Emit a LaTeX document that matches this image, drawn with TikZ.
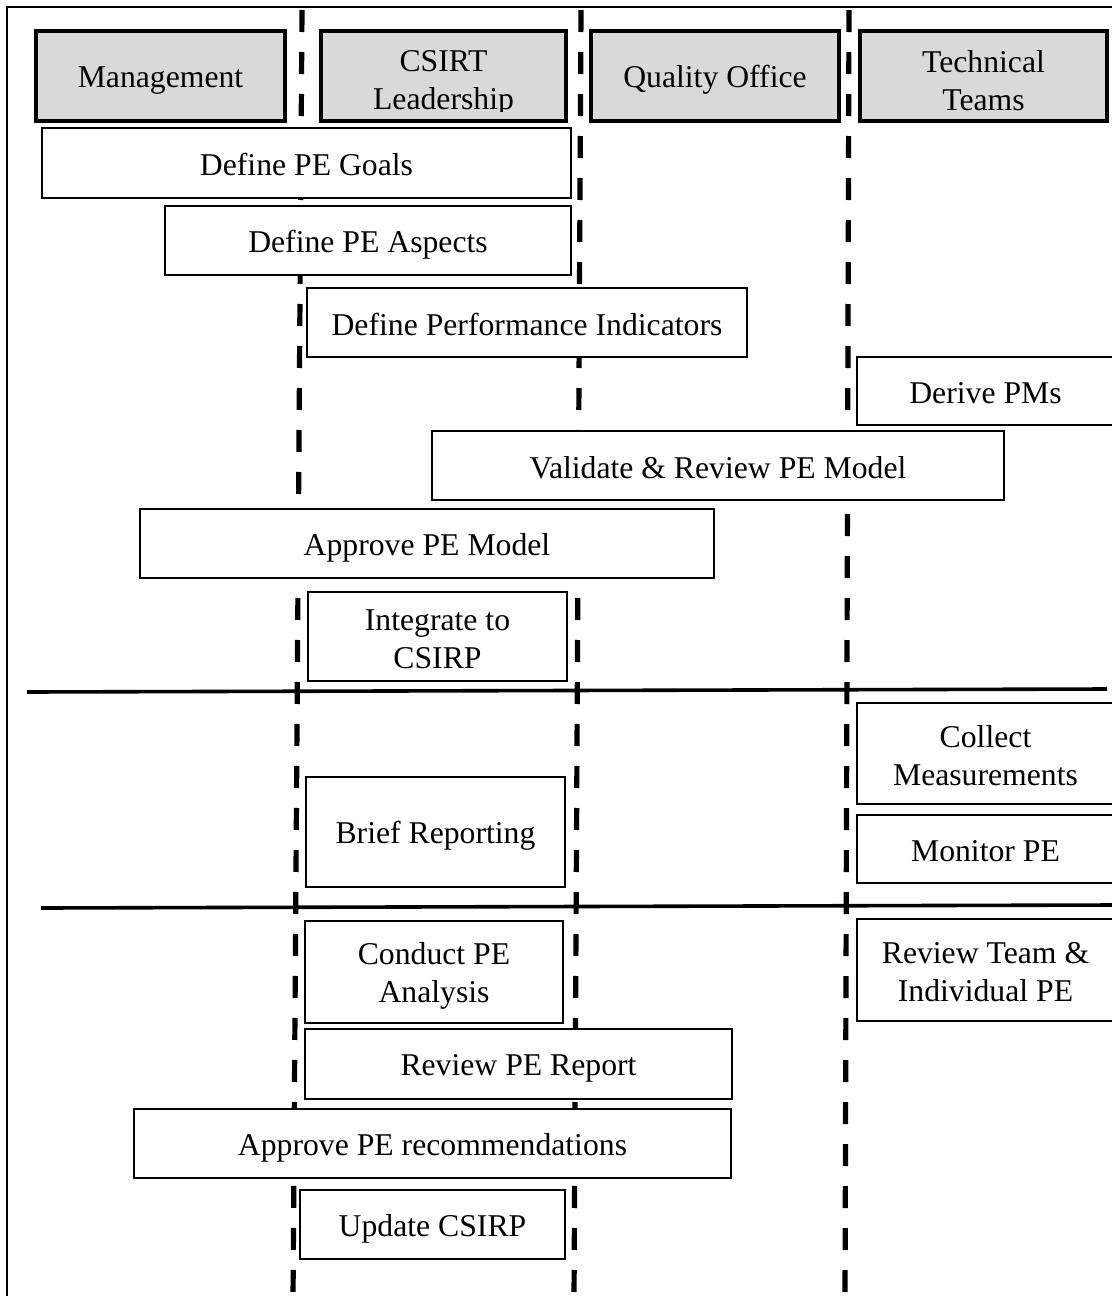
\documentclass[tikz,border=0pt]{standalone}
\usepackage{fontspec}
\setmainfont{Liberation Serif}
\definecolor{headgray}{HTML}{D9D9D9}
\newcommand\wstrut{\rule[-0.15em]{0pt}{1.107em}}
\begin{document}
\begin{tikzpicture}[x=0.5pt,y=-0.5pt,
  every node/.style={inner sep=0pt,outer sep=0pt,align=center,
    font=\fontsize{15.85}{19}\selectfont},
  act/.style={draw=black,line width=1.3pt,fill=white},
  hdr/.style={draw=black,line width=1.8pt,fill=headgray},
  lane/.style={line width=2.6pt,dash pattern=on 11pt off 10pt},
  divider/.style={line width=1.8pt},
  frame/.style={line width=1.2pt}]
\useasboundingbox (0,0) rectangle (1112,1296);
\begin{scope}
\clip (0,0) rectangle (1112,1296);

% outer frame
\coordinate (ftl) at (7,7);
\coordinate (ftr) at (1112,7);
\coordinate (fbl) at (7,1300);
\draw[frame] (ftr) -- (ftl) -- (fbl);

% swimlane separators
\coordinate (l1t) at (302,10);  \coordinate (l1b) at (293,1300);
\coordinate (l2t) at (581,10);  \coordinate (l2b) at (574,1300);
\coordinate (l3t) at (849,10);  \coordinate (l3b) at (845,1300);
\draw[lane] (l1t) -- (l1b);
\draw[lane] (l2t) -- (l2b);
\draw[lane] (l3t) -- (l3b);

% phase dividers
\coordinate (d1a) at (27,692);  \coordinate (d1b) at (1107,689);
\coordinate (d2a) at (41,908);  \coordinate (d2b) at (1114,905);
\draw[divider] (d1a) -- (d1b);
\draw[divider] (d2a) -- (d2b);

% lane headers
\node[hdr,minimum width=124.5pt,minimum height=45pt] (mgmt) at (160.5,76) {\wstrut Management};
\node[hdr,minimum width=122.5pt,minimum height=45pt] (csirt) at (443.5,76) {};
\begin{scope}
  \clip (323,33) rectangle (564,111);
  \node (csirtlabel) at ([yshift=-1.5pt]csirt.center) {\wstrut CSIRT\\\wstrut Leadership};
\end{scope}
\node[hdr,minimum width=124pt,minimum height=45pt] (qo) at (715,76) {\wstrut Quality Office};
\node[hdr,minimum width=123.5pt,minimum height=45pt] (tt) at (983.5,76) {};
\node (ttlabel) at ([yshift=-1.5pt]tt.center) {\wstrut Technical\\\wstrut Teams};

% activities
\node[act,minimum width=264.5pt,minimum height=35pt] (goals) at (306.5,163) {\wstrut Define PE Goals};
\node[act,minimum width=203pt,minimum height=34.5pt] (aspects) at (368,240.5) {\wstrut Define PE Aspects};
\node[act,minimum width=220pt,minimum height=34.5pt] (indic) at (527,322.5) {\wstrut Define Performance Indicators};
\node[act,minimum width=128.5pt,minimum height=34pt] (derive) at (985.5,391) {\wstrut Derive PMs};
\node[act,minimum width=286pt,minimum height=34.5pt] (validate) at (718,465.5) {\wstrut Validate \& Review PE Model};
\node[act,minimum width=287pt,minimum height=34.5pt] (approve) at (427,543.5) {\wstrut Approve PE Model};
\node[act,minimum width=129.5pt,minimum height=44.5pt] (integrate) at (437.5,636.5) {\wstrut Integrate to\\\wstrut CSIRP};

\node[act,minimum width=128.5pt,minimum height=50.5pt] (collect) at (985.5,753.5) {\wstrut Collect\\\wstrut Measurements};
\node[act,minimum width=128.5pt,minimum height=34pt] (monitor) at (985.5,849) {\wstrut Monitor PE};
\node[act,minimum width=129.5pt,minimum height=55pt] (brief) at (435.5,832) {\wstrut Brief Reporting};

\node[act,minimum width=129pt,minimum height=51pt] (conduct) at (434,972) {\wstrut Conduct PE\\\wstrut Analysis};
\node[act,minimum width=128.5pt,minimum height=51pt] (reviewteam) at (985.5,970) {\wstrut Review Team \&\\\wstrut Individual PE};
\node[act,minimum width=213.5pt,minimum height=35pt] (report) at (518.5,1064) {\wstrut Review PE Report};
\node[act,minimum width=298.5pt,minimum height=34.5pt] (approverec) at (432.5,1143.5) {\wstrut Approve PE recommendations};
\node[act,minimum width=132.5pt,minimum height=34.5pt] (update) at (432.5,1224.5) {\wstrut Update CSIRP};
\end{scope}
\end{tikzpicture}
\end{document}
